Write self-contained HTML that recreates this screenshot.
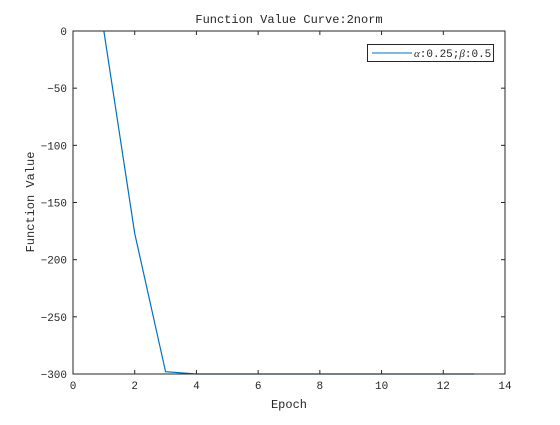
<!DOCTYPE html>
<html><head><meta charset="utf-8"><style>
body{margin:0;background:#fff;}
svg text{font-family:"Liberation Mono","DejaVu Sans Mono",monospace;}
</style></head><body>
<svg width="560" height="420" xmlns="http://www.w3.org/2000/svg" id="c">
<rect width="560" height="420" fill="#fff"/>
<text x="289" y="23" font-size="12" text-anchor="middle" fill="#262626">Function Value Curve:2norm</text>
<text x="289" y="408" font-size="12" text-anchor="middle" fill="#262626">Epoch</text>
<text x="34" y="202" font-size="12" text-anchor="middle" fill="#262626" transform="rotate(-90 34 202)">Function Value</text>
<g id="g"></g>
<rect x="73" y="31" width="432" height="343" fill="none" stroke="#262626" stroke-width="1"/>
<g>
<rect x="367.5" y="44.5" width="126" height="17" fill="#fff" stroke="#262626"/>
<line x1="372" y1="53" x2="412" y2="53" stroke="#0072bd"/>
<text x="414" y="57" font-size="11" fill="#262626"><tspan font-style="italic" font-family="Liberation Serif">α</tspan>:0.25;<tspan font-style="italic" font-family="Liberation Serif">β</tspan>:0.5</text>
</g>
</svg>
<script>
const epochs=[1,2,3,4,5,6,7,8,9,10,11,12,13];
const values=[0,-177,-298,-300,-300,-300,-300,-300,-300,-300,-300,-300,-300];
const xTicks=[0,2,4,6,8,10,12,14];
const yTicks=[0,-50,-100,-150,-200,-250,-300];
const X0=73,X1=505,Y0=31,Y1=374;
const sx=v=>X0+(v-0)/14*(X1-X0);
const sy=v=>Y0+(0-v)/300*(Y1-Y0);
const g=document.getElementById('g');
const NS='http://www.w3.org/2000/svg';
function mk(t,a){const e=document.createElementNS(NS,t);for(const k in a)e.setAttribute(k,a[k]);g.appendChild(e);return e;}
xTicks.forEach(v=>{
 const x=sx(v);
 const l=mk('line',{x1:x,x2:x,y1:Y1,y2:Y1-4,stroke:'#262626'});
 
 
 const l2=mk('line',{x1:x,x2:x,y1:Y0,y2:Y0+4,stroke:'#262626'});
 
 
 const t=mk('text',{x:x,y:Y1+15,'font-size':11,'text-anchor':'middle',fill:'#262626'});
 t.textContent=v;
 
 
});
yTicks.forEach(v=>{
 const y=sy(v);
 const l=mk('line',{x1:X0,x2:X0+4,y1:y,y2:y,stroke:'#262626'});
 
 
 const l2=mk('line',{x1:X1,x2:X1-4,y1:y,y2:y,stroke:'#262626'});
 
 
 const t=mk('text',{x:X0-6,y:y+4,'font-size':11,'text-anchor':'end',fill:'#262626'});
 t.textContent=v===0?'0':'\u2212'+Math.abs(v);
 
 
});
const p=mk('polyline',{points:epochs.map((e,i)=>sx(e)+','+sy(values[i])).join(' '),fill:'none',stroke:'#0072bd','stroke-width':1.2});


</script>
</body></html>
